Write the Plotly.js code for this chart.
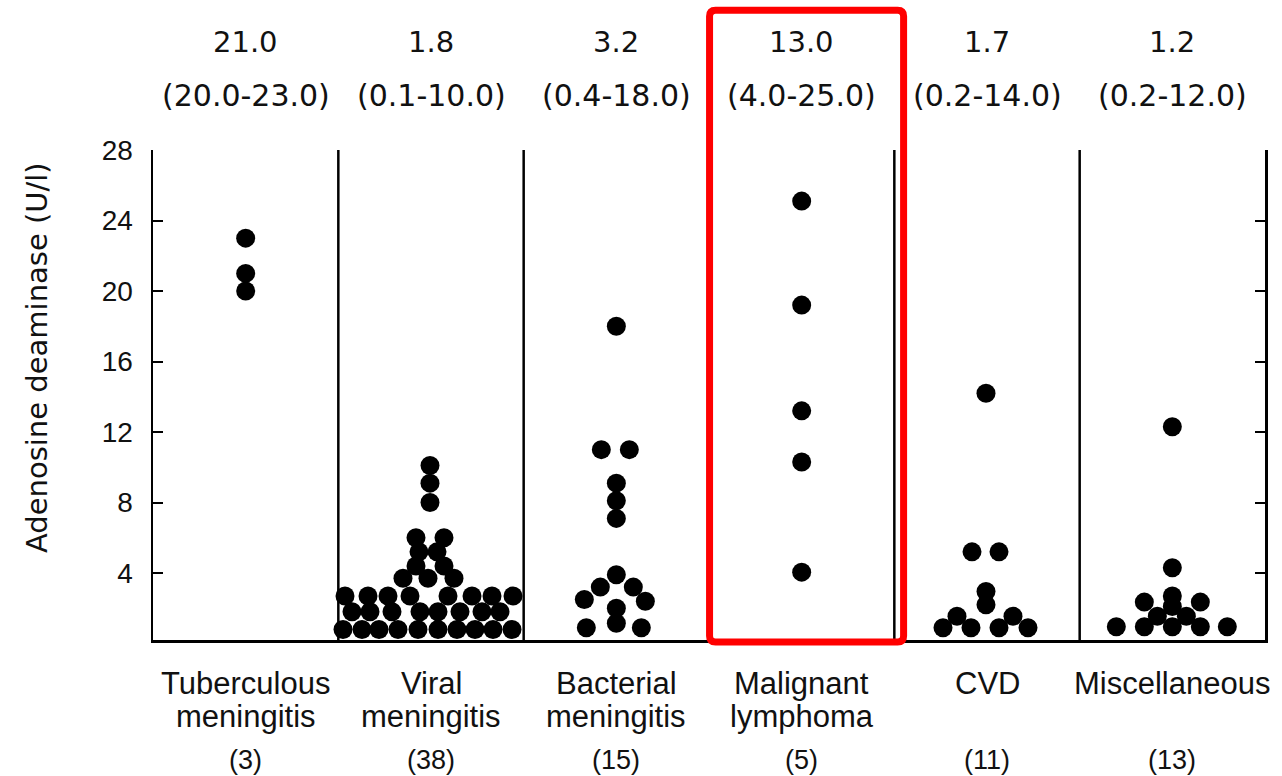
<!DOCTYPE html>
<html>
<head>
<meta charset="utf-8">
<script src="https://cdn.plot.ly/plotly-3.0.1.min.js"></script>
<style>html,body{margin:0;padding:0;background:#fff;}#chart{width:1282px;height:776px;}</style>
</head>
<body>
<div id="chart"></div>
<script>
// ---- Category labels ----
const catLine1 = ['Tuberculous', 'Viral', 'Bacterial', 'Malignant', 'CVD', 'Miscellaneous'];
const catLine2 = ['meningitis', 'meningitis', 'meningitis', 'lymphoma', '', ''];
const medians = ['21.0', '1.8', '3.2', '13.0', '1.7', '1.2'];
const ranges = ['(20.0-23.0)', '(0.1-10.0)', '(0.4-18.0)', '(4.0-25.0)', '(0.2-14.0)', '(0.2-12.0)'];

// ---- Values (U/l) ----
const tbValues = [23.0, 21.0, 20.0];
const viralValues = [0.8, 0.8, 0.8, 0.8, 0.8, 0.8, 0.8, 0.8, 0.8, 0.8,
                     1.8, 1.8, 1.8, 1.8, 1.8, 1.8, 1.8, 1.8,
                     2.7, 2.7, 2.7, 2.7, 2.7, 2.7, 2.7, 2.7,
                     3.7, 3.7, 3.7, 4.4, 4.4, 5.2, 5.2, 6.0, 6.0,
                     8.0, 9.1, 10.1];
const bacterialValues = [18.0, 11.0, 11.0, 9.1, 8.1, 7.1, 3.9, 3.2, 3.2, 2.5, 2.4, 2.0, 1.15, 0.9, 0.9];
const lymphomaValues = [25.1, 19.2, 13.2, 10.3, 4.05];
const cvdValues = [14.2, 5.2, 5.2, 2.95, 2.2, 1.55, 1.55, 0.9, 0.9, 0.9, 0.9];
const miscValues = [12.3, 4.3, 2.7, 2.1, 2.35, 2.35, 1.55, 1.55, 0.95, 0.95, 0.95, 0.95, 0.95];

// ---- Horizontal spread of the dots within each column (px from column centre) ----
const tbSpread = [0, 0, 0];
const viralSpread = [-88, -69, -52, -33, -13, 7, 26, 44, 62, 81,
                     -79, -61, -39, -11, 7, 29, 51, 69,
                     -86, -63, -43, -21, 17, 41, 61, 82,
                     -28, -3, 23, -15, 13, -12, 6, -15, 13,
                     -1, -1, -1];
const bacterialSpread = [0, -15, 13, 0, 0, 0, 0, -16, 17, -32, 29, 0, 0, -30, 25];
const lymphomaSpread = [0, 0, 0, 0, 0];
const cvdSpread = [-1, -15, 12, -1, -1, -30, 26, -44, -16, 12, 41];
const miscSpread = [0, 0, 0, 0, -28, 28, -15, 14, -56, -28, 0, 28, 55];

const groups = [
  [tbValues, tbSpread], [viralValues, viralSpread], [bacterialValues, bacterialSpread],
  [lymphomaValues, lymphomaSpread], [cvdValues, cvdSpread], [miscValues, miscSpread]
];

const W = 1282, H = 776;
const M = {l: 153, r: 17, t: 150, b: 136};
const nCat = catLine1.length;
const pxPerCat = (W - M.l - M.r) / nCat;
const plotH = H - M.t - M.b;

const traces = groups.map(function (g, i) {
  return {
    type: 'scatter', mode: 'markers',
    x: g[0].map(function (v, k) { return i + g[1][k] / pxPerCat; }),
    y: g[0],
    marker: {color: '#000', size: 19, line: {width: 0}},
    cliponaxis: false, hoverinfo: 'y', showlegend: false
  };
});

const shapes = [];
for (let k = 1; k < nCat; k++) {
  shapes.push({type: 'line', xref: 'x', yref: 'paper', x0: k - 0.5, x1: k - 0.5, y0: 0, y1: 1,
               line: {color: '#000', width: 2.5}, layer: 'above'});
}
// red highlight box (rounded corners) around the malignant lymphoma column
(function () {
  const x0 = 3 - 0.497, x1 = 3 + 0.55, y0 = -0.004, y1 = 1.285;
  const rx = 6 / pxPerCat, ry = 6 / plotH;
  const p = 'M ' + (x0 + rx) + ',' + y1 +
    ' L ' + (x1 - rx) + ',' + y1 + ' Q ' + x1 + ',' + y1 + ' ' + x1 + ',' + (y1 - ry) +
    ' L ' + x1 + ',' + (y0 + ry) + ' Q ' + x1 + ',' + y0 + ' ' + (x1 - rx) + ',' + y0 +
    ' L ' + (x0 + rx) + ',' + y0 + ' Q ' + x0 + ',' + y0 + ' ' + x0 + ',' + (y0 + ry) +
    ' L ' + x0 + ',' + (y1 - ry) + ' Q ' + x0 + ',' + y1 + ' ' + (x0 + rx) + ',' + y1 + ' Z';
  shapes.push({type: 'path', xref: 'x', yref: 'paper', path: p,
               line: {color: '#ff0000', width: 7}, fillcolor: 'rgba(0,0,0,0)', layer: 'above'});
})();

const medFont = {family: 'DejaVu Sans, sans-serif', size: 29, color: '#111'};
const rangeFont = {family: 'DejaVu Sans, sans-serif', size: 30, color: '#111'};
const botFont = {family: 'Liberation Sans, Arial, sans-serif', size: 31, color: '#111'};
const cntFont = {family: 'Liberation Sans, Arial, sans-serif', size: 27, color: '#111'};
const annotations = [];
for (let i = 0; i < nCat; i++) {
  annotations.push({xref: 'x', yref: 'paper', x: i, y: 1.2204, text: medians[i], showarrow: false,
                    xanchor: 'center', yanchor: 'middle', font: medFont});
  annotations.push({xref: 'x', yref: 'paper', x: i, y: 1.112, text: ranges[i], showarrow: false,
                    xanchor: 'center', yanchor: 'middle', font: rangeFont});
  annotations.push({xref: 'x', yref: 'paper', x: i, y: -0.088, text: catLine1[i], showarrow: false,
                    xanchor: 'center', yanchor: 'middle', font: botFont});
  if (catLine2[i]) {
    annotations.push({xref: 'x', yref: 'paper', x: i, y: -0.157, text: catLine2[i], showarrow: false,
                      xanchor: 'center', yanchor: 'middle', font: botFont});
  }
  annotations.push({xref: 'x', yref: 'paper', x: i, y: -0.245, text: '(' + groups[i][0].length + ')',
                    showarrow: false, xanchor: 'center', yanchor: 'middle', font: cntFont});
}
annotations.push({xref: 'paper', yref: 'paper', x: 0, xshift: -116, y: 0.5755,
                  text: 'Adenosine deaminase (U/l)', textangle: -90, showarrow: false,
                  xanchor: 'center', yanchor: 'middle',
                  font: {family: 'DejaVu Sans, sans-serif', size: 29, color: '#111'}});

const layout = {
  width: W, height: H, margin: M,
  paper_bgcolor: '#fff', plot_bgcolor: '#fff',
  showlegend: false,
  xaxis: {range: [-0.5, nCat - 0.5], showline: true, linecolor: '#000', linewidth: 3,
          showgrid: false, zeroline: false, showticklabels: false, ticks: '', fixedrange: true},
  yaxis: {range: [0.2, 28], tickvals: [4, 8, 12, 16, 20, 24, 28], ticks: 'inside', ticklen: 10,
          tickwidth: 2, tickcolor: '#000', showline: true, linecolor: '#000', linewidth: 2.5,
          mirror: 'ticks', showgrid: false, zeroline: false, ticklabelstandoff: 12,
          tickfont: {family: 'Liberation Sans, Arial, sans-serif', size: 28, color: '#111'}, fixedrange: true},
  shapes: shapes,
  annotations: annotations
};

Plotly.newPlot('chart', traces, layout, {displayModeBar: false, staticPlot: true});
</script>
</body>
</html>
